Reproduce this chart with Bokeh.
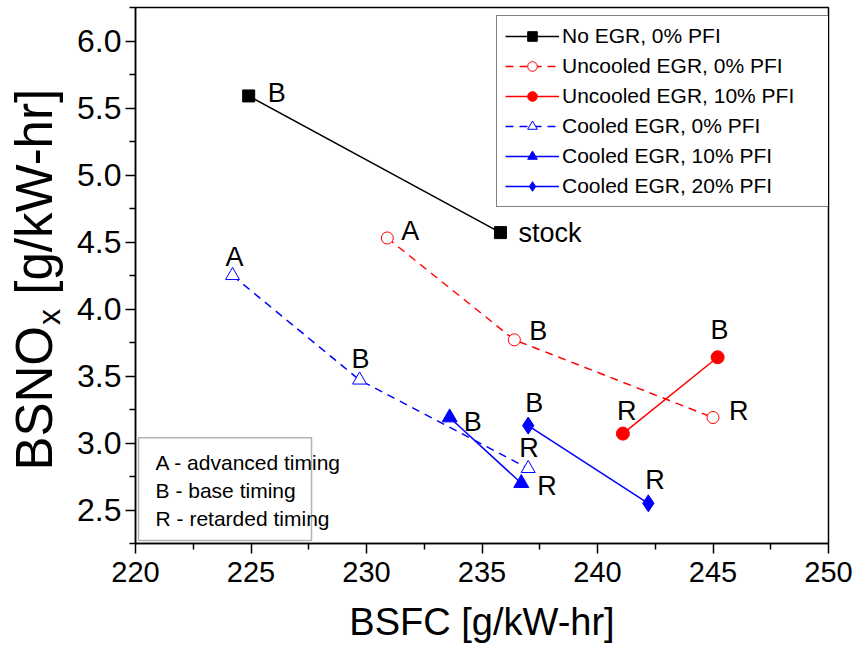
import math
from bokeh.plotting import figure
from bokeh.layouts import row
from bokeh.models import (ColumnDataSource, Legend, LegendItem, Range1d, BoxAnnotation,
                          Label, FixedTicker, CustomJSTickFormatter)
from bokeh.core.properties import value
from bokeh.embed import file_html
from bokeh.resources import INLINE

# ---- data (BSFC g/kW-hr, BSNOx g/kW-hr) ----
noegr_x = [224.9, 235.8]
noegr_y = [5.59, 4.57]
noegr_lab = ["B", "stock"]

unc0_x = [230.9, 236.4, 245.0]
unc0_y = [4.53, 3.77, 3.19]
unc0_lab = ["A", "B", "R"]

unc10_x = [241.1, 245.2]
unc10_y = [3.07, 3.64]
unc10_lab = ["R", "B"]

c0_x = [224.2, 229.7, 237.0]
c0_y = [4.25, 3.47, 2.81]
c0_lab = ["A", "B", "R"]

c10_x = [233.6, 236.7]
c10_y = [3.19, 2.70]
c10_lab = ["B", "R"]

c20_x = [237.0, 242.2]
c20_y = [3.13, 2.55]
c20_lab = ["B", "R"]

series_names = ["No EGR, 0% PFI", "Uncooled EGR, 0% PFI", "Uncooled EGR, 10% PFI",
                "Cooled EGR, 0% PFI", "Cooled EGR, 10% PFI", "Cooled EGR, 20% PFI"]
notes = ["A - advanced timing", "B - base timing", "R - retarded timing"]

x_ticks = [220, 225, 230, 235, 240, 245, 250]
y_ticks = [2.5, 3.0, 3.5, 4.0, 4.5, 5.0, 5.5, 6.0]

x_title = "BSFC [g/kW-hr]"
y_title_main = "BSNO"
y_title_sub = "x"
y_title_rest = "[g/kW-hr]"

# label offsets (screen px) for the point annotations
noegr_off = [(19, -3), (18, 0)]
unc0_off = [(14, -7), (15, -9), (16, -7)]
unc10_off = [(-6, -23), (-7, -27)]
c0_off = [(-7, -19), (-8, -21), (-9, -20)]
c10_off = [(14, 4), (16, 3)]
c20_off = [(-3, -23), (-3, -23)]

FONT = "Liberation Sans"

# Arial-compatible advance widths (em) for laying out the rotated y title
EM = {"B": .667, "S": .667, "N": .722, "O": .778, "x": .5, " ": .278, "[": .278,
      "g": .556, "/": .278, "k": .5, "W": .944, "-": .333, "h": .556, "r": .333, "]": .278}

def text_w(s, size):
    return sum(EM.get(c, 0.556) for c in s) * size

TOP, BOTTOM = 7, 118
H = 661
FRAME_H = H - TOP - BOTTOM

# ---------- narrow strip that carries the rotated y-axis title ----------
TW = 70
pt = figure(width=TW, height=H, output_backend="svg", toolbar_location=None,
            x_range=Range1d(0, TW), y_range=Range1d(0, FRAME_H),
            min_border_left=0, min_border_right=0, min_border_top=TOP, min_border_bottom=BOTTOM)
pt.axis.visible = False
pt.grid.visible = False
pt.outline_line_color = None
pt.background_fill_color = "white"
pt.border_fill_color = "white"

YT_SIZE = 51
YS_SIZE = 32
mid_x = 34                 # centre line of the rotated capitals (px in strip)
start_y = (H - BOTTOM) - 470   # where "B" begins (px above frame bottom)
y_main_w = text_w(y_title_main, YT_SIZE)
y_sub_w = text_w(y_title_sub, YS_SIZE)
y_space_w = text_w(" ", YT_SIZE)
for txt, dx, dy, sz in ((y_title_main, 0, 0, YT_SIZE),
                        (y_title_sub, 14, y_main_w + 1, YS_SIZE),
                        (y_title_rest, 0, y_main_w + y_sub_w + y_space_w + 1, YT_SIZE)):
    pt.add_layout(Label(x=mid_x + dx, y=start_y + dy, text=txt, angle=math.pi / 2,
                        text_font=FONT, text_font_size=f"{sz}px", text_color="black",
                        text_align="left", text_baseline="middle"))

# ---------- main plot ----------
p = figure(width=860 - TW, height=H, output_backend="svg", toolbar_location=None,
           x_range=Range1d(220, 250), y_range=Range1d(2.25, 6.25),
           min_border_left=135 - TW, min_border_right=32, min_border_top=TOP, min_border_bottom=BOTTOM)
p.grid.visible = False
p.background_fill_color = "white"
p.border_fill_color = "white"
p.outline_line_color = "black"
p.outline_line_width = 1.5

p.xaxis.ticker = FixedTicker(ticks=x_ticks, minor_ticks=[222.5 + 5 * i for i in range(6)])
p.yaxis.ticker = FixedTicker(ticks=y_ticks, minor_ticks=[2.25 + 0.5 * i for i in range(9)])
p.yaxis.formatter = CustomJSTickFormatter(code="return tick.toFixed(1);")
for ax in (p.xaxis[0], p.yaxis[0]):
    ax.axis_line_width = 1.5
    ax.axis_line_color = "black"
    ax.major_tick_line_width = 1.5
    ax.minor_tick_line_width = 1.5
    ax.major_tick_out = 10
    ax.major_tick_in = 0
    ax.minor_tick_out = 6
    ax.minor_tick_in = 0
    ax.major_label_text_color = "black"
    ax.axis_label_text_color = "black"
    ax.axis_label_text_font_style = "normal"

p.xaxis.axis_label = x_title
p.xaxis.axis_label_text_font = FONT
p.xaxis.axis_label_text_font_size = "38px"
p.xaxis.major_label_text_font = FONT
p.xaxis.major_label_text_font_size = "29px"
p.xaxis.major_label_standoff = 8
p.xaxis.axis_label_standoff = 16

p.yaxis.major_label_text_font = FONT
p.yaxis.major_label_text_font_size = "32px"
p.yaxis.major_label_standoff = 4

RED = "#ff0000"
BLUE = "#0000ff"
DASH = "8 6"

def src(xs, ys, labs, offs):
    return ColumnDataSource(dict(x=xs, y=ys, lab=labs,
                                 dx=[o[0] for o in offs], dy=[o[1] for o in offs]))

s_noegr = src(noegr_x, noegr_y, noegr_lab, noegr_off)
s_unc0 = src(unc0_x, unc0_y, unc0_lab, unc0_off)
s_unc10 = src(unc10_x, unc10_y, unc10_lab, unc10_off)
s_c0 = src(c0_x, c0_y, c0_lab, c0_off)
s_c10 = src(c10_x, c10_y, c10_lab, c10_off)
s_c20 = src(c20_x, c20_y, c20_lab, c20_off)

items = []

l1 = p.line("x", "y", source=s_noegr, line_color="black", line_width=1.5)
m1 = p.scatter("x", "y", source=s_noegr, marker="square", size=12, fill_color="black", line_color="black")
items.append(LegendItem(label=series_names[0], renderers=[l1, m1]))

l2 = p.line("x", "y", source=s_unc0, line_color=RED, line_width=1.5, line_dash=DASH)
m2 = p.scatter("x", "y", source=s_unc0, marker="circle", size=12, fill_color="white", line_color=RED, line_width=1)
items.append(LegendItem(label=series_names[1], renderers=[l2, m2]))

l3 = p.line("x", "y", source=s_unc10, line_color=RED, line_width=1.5)
m3 = p.scatter("x", "y", source=s_unc10, marker="circle", size=13, fill_color=RED, line_color=RED)
items.append(LegendItem(label=series_names[2], renderers=[l3, m3]))

l4 = p.line("x", "y", source=s_c0, line_color=BLUE, line_width=1.5, line_dash=DASH)
m4 = p.scatter("x", "y", source=s_c0, marker="triangle", size=14, fill_color="white", line_color=BLUE, line_width=1)
items.append(LegendItem(label=series_names[3], renderers=[l4, m4]))

l5 = p.line("x", "y", source=s_c10, line_color=BLUE, line_width=1.5)
m5 = p.scatter("x", "y", source=s_c10, marker="triangle", size=15, fill_color=BLUE, line_color=BLUE)
items.append(LegendItem(label=series_names[4], renderers=[l5, m5]))

l6 = p.line("x", "y", source=s_c20, line_color=BLUE, line_width=1.5)
m6 = p.scatter("x", "y", source=s_c20, marker="diamond", size=17,
               fill_color=BLUE, line_color=BLUE)
items.append(LegendItem(label=series_names[5], renderers=[l6, m6]))

for s in (s_noegr, s_unc0, s_unc10, s_c0, s_c10, s_c20):
    p.text("x", "y", text="lab", source=s, x_offset="dx", y_offset="dy",
           text_font=value(FONT), text_font_size="27px", text_color="black",
           text_align="left", text_baseline="middle")

legend = Legend(items=items, location=(361, 336))
legend.label_text_font = FONT
legend.label_text_font_size = "21px"
legend.label_text_color = "black"
legend.glyph_width = 54
legend.glyph_height = 24
legend.label_height = 24
legend.label_width = 258
legend.label_standoff = 3
legend.spacing = 6
legend.padding = 8
legend.margin = 0
legend.border_line_color = "black"
legend.border_line_width = 1.5
legend.background_fill_color = "white"
legend.background_fill_alpha = 1.0
p.add_layout(legend)

box = BoxAnnotation(left=220.13, right=227.62, bottom=2.272, top=3.04,
                    fill_color="white", fill_alpha=1.0, line_color="black", line_width=1.5)
p.add_layout(box)
note_y = [2.853, 2.644, 2.435]
for t, yy in zip(notes, note_y):
    p.add_layout(Label(x=220.87, y=yy, text=t, text_font=FONT, text_font_size="21px",
                       text_color="black", text_baseline="middle", text_align="left"))

layout = row(pt, p, spacing=0)
open("out.html", "w").write(file_html(layout, INLINE))
